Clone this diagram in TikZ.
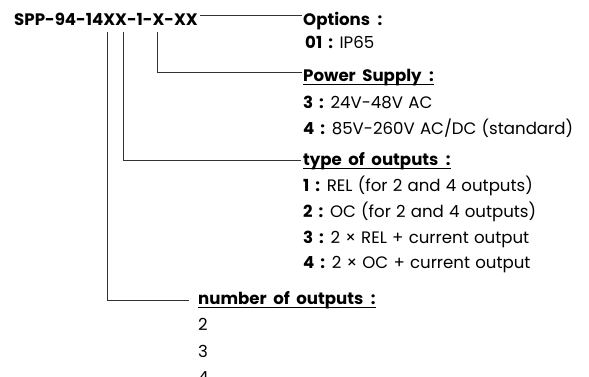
\documentclass[tikz,border=0pt]{standalone}
\usepackage{fontspec}
\setmainfont{Poppins}
\newcommand\mycolon{\hspace{7.5pt}:}
\newcommand\mybcolon{\hspace{6pt}:}
\begin{document}
\begin{tikzpicture}[x=1pt,y=-1pt,
  txt/.style={anchor=base west,inner sep=0pt,font={\fontsize{16.6}{20}\selectfont\spaceskip=5.2pt\relax}},
  head/.style={anchor=base west,inner sep=0pt,font={\fontsize{16.6}{20}\selectfont\bfseries\spaceskip=6.5pt\relax}},
  conn/.style={draw=black!80,line width=0.9pt},
  uline/.style={draw=black,line width=0.9pt}]
\useasboundingbox (0,0) rectangle (589,376);
% title
\node[head] (title) at (14,25) {SPP-94-14XX-1-X-XX};
% options
\node[head] (opt) at (303,25) {Options\mycolon};
\node[txt] (opt1) at (305,48) {\textbf{01\mybcolon} IP65};
% power supply
\node[head] (ps) at (303,81) {Power Supply\mycolon};
\node[txt] (ps3) at (303,108) {\textbf{3\mybcolon} 24V-48V AC};
\node[txt] (ps4) at (303,134) {\textbf{4\mybcolon} 85V-260V AC/DC (standard)};
% type of outputs
\node[head] (ty) at (303,165) {type of outputs\mycolon};
\node[txt] (ty1) at (303,191) {\textbf{1\mybcolon} REL (for 2 and 4 outputs)};
\node[txt] (ty2) at (303,217) {\textbf{2\mybcolon} OC (for 2 and 4 outputs)};
\node[txt] (ty3) at (303,243) {\textbf{3\mybcolon} 2 × REL + current output};
\node[txt] (ty4) at (303,268) {\textbf{4\mybcolon} 2 × OC + current output};
% number of outputs
\node[head] (nu) at (198,304) {number of outputs\mycolon};
\node[txt] (nu2) at (198,330) {2};
\node[txt] (nu3) at (198,357) {3};
\node[txt] (nu4) at (198,383) {4};
% underlines
\foreach \n in {ps,ty,nu}
  \draw[uline] ([yshift=-3pt]\n.base west) -- ([yshift=-3pt]\n.base east);
% connector points
\coordinate (t0) at (200,15);
\coordinate (t1) at (302,15);
\coordinate (v1) at (107,32);
\coordinate (v2) at (123,32);
\coordinate (v3) at (157,32);
\coordinate (e3) at (302,72);
\coordinate (e2) at (301,160);
\coordinate (e1) at (189,300);
\draw[conn] (t0) -- (t1);
\draw[conn] (v3) |- (e3);
\draw[conn] (v2) |- (e2);
\draw[conn] (v1) |- (e1);
\end{tikzpicture}
\end{document}
